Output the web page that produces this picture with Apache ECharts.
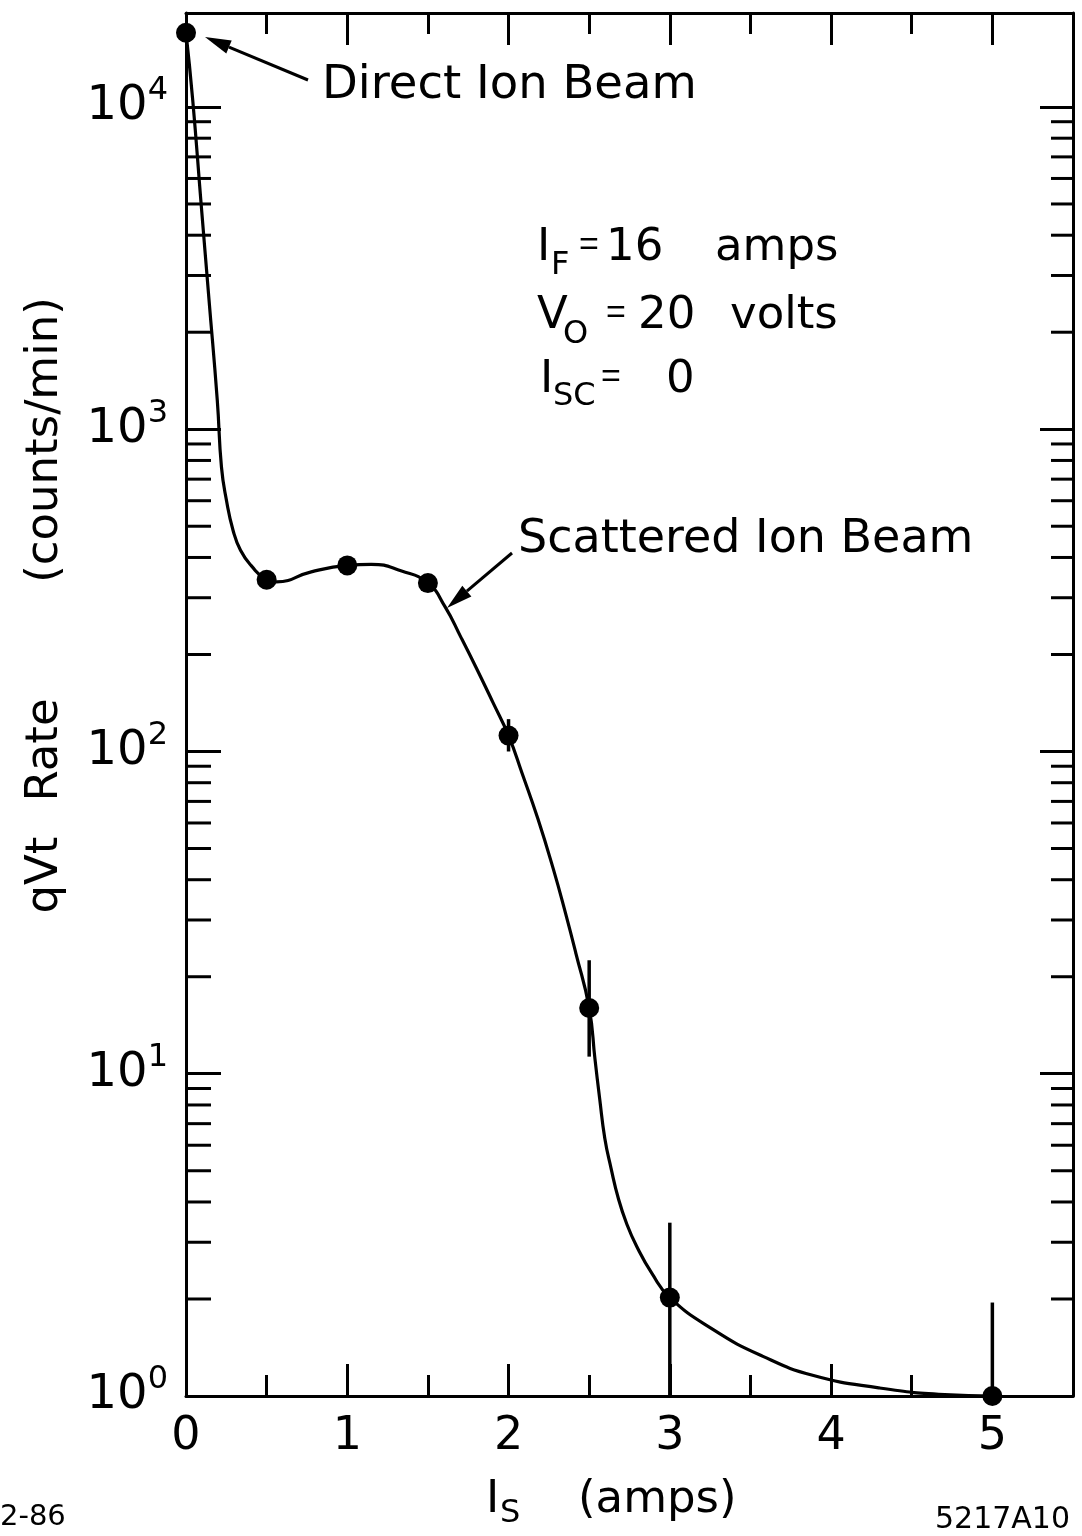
<!DOCTYPE html>
<html>
<head>
<meta charset="utf-8">
<script src="https://cdn.jsdelivr.net/npm/echarts@6/dist/echarts.min.js"></script>
<style>
  html, body { margin: 0; padding: 0; background: #fff; }
  #chart { width: 1082px; height: 1536px; }
</style>
</head>
<body>
<div id="chart"></div>
<script>
// Measured qVt rate versus scattering current I_S
const measuredCurrent = [0.0, 0.5, 1.0, 1.5, 2.0, 2.5, 3.0, 5.0];
const measuredRate    = [17000, 341, 378, 333, 112, 16.0, 2.02, 1.0];
// Vertical error bars (null = no bar); lower ends below 1 run off the axis
const errorLow  = [null, null, null, null, 100, 11.3, 0.5, 0.5];
const errorHigh = [null, null, null, null, 126, 22.5, 3.45, 1.95];

// Hand-drawn guide curve through the measurements
const curveCurrent = [0.0, 0.042, 0.092, 0.143, 0.194, 0.22, 0.251, 0.292, 0.338, 0.403, 0.5,
                      0.561, 0.777, 1.0, 1.149, 1.337, 1.5, 1.605, 1.705, 1.804, 1.903, 2.0,
                      2.085, 2.182, 2.277, 2.354, 2.418, 2.5, 2.536, 2.565, 2.597, 2.636, 2.681,
                      2.732, 2.795, 2.889, 3.0,
                      3.267, 3.574, 3.891, 4.295, 4.704, 5.0];
const curveRate    = [17000, 10470, 5130, 2510, 1228, 762, 601, 485, 421, 378, 341,
                      336, 361, 378, 381, 363, 333, 282, 226, 180, 142, 112,
                      85.3, 61.8, 43.3, 31.4, 23.6, 16.0, 11.1, 8.37, 6.3, 5.08, 4.10,
                      3.43, 2.91, 2.40, 2.02,
                      1.61, 1.33, 1.158, 1.06, 1.01, 1.0];

// Axis extents and tick labels
const xMin = 0, xMax = 5.5;
const yMin = 1, yMax = 19570;
const xTickLabels = ['0', '1', '2', '3', '4', '5'];
const yDecadeExponents = [0, 1, 2, 3, 4];
const minorTickRates = [];
yDecadeExponents.forEach(function (e) {
  for (let m = 2; m <= 9; m++) {
    const v = m * Math.pow(10, e);
    if (v < yMax) minorTickRates.push(v);
  }
});

const FONT = 'DejaVu Sans';
const INK = '#000';

const chart = echarts.init(document.getElementById('chart'), null, { renderer: 'canvas' });

function xAxisDef(position, interval, tickLen, showLine, showLabel) {
  return {
    type: 'value', position: position, min: xMin, max: xMax, interval: interval,
    axisLine: { show: showLine, onZero: false, lineStyle: { color: INK, width: 3 } },
    axisTick: { show: true, inside: true, length: tickLen, lineStyle: { color: INK, width: 3 } },
    splitLine: { show: false },
    axisLabel: {
      show: showLabel, margin: 18, color: INK, fontFamily: FONT, fontSize: 46,
      formatter: function (v) {
        const i = Math.round(v);
        return Math.abs(v - i) < 1e-9 && xTickLabels[i] !== undefined ? xTickLabels[i] : '';
      }
    }
  };
}

function yAxisDef(position, tickLen, showLabel) {
  return {
    type: 'log', logBase: 10, position: position, min: yMin, max: yMax,
    axisLine: { show: true, onZero: false, lineStyle: { color: INK, width: 3 } },
    axisTick: { show: true, inside: true, length: tickLen, lineStyle: { color: INK, width: 3 } },
    splitLine: { show: false },
    minorTick: { show: false },
    axisLabel: {
      show: showLabel, margin: 18, color: INK, fontFamily: FONT,
      formatter: function (v) {
        const e = Math.log10(v);
        const r = Math.round(e);
        if (Math.abs(e - r) > 1e-6 || yDecadeExponents.indexOf(r) < 0) return '';
        return '{b|10}{s|' + r + '}';
      },
      rich: {
        b: { fontSize: 48, fontFamily: FONT, color: INK, lineHeight: 64 },
        s: { fontSize: 32, fontFamily: FONT, color: INK, lineHeight: 32, verticalAlign: 'top' }
      }
    }
  };
}

// Arrow made of a shaft and a filled head, pointing at (tx, ty)
function arrow(tx, ty, fx, fy) {
  const dx = fx - tx, dy = fy - ty;
  const len = Math.sqrt(dx * dx + dy * dy);
  const ux = dx / len, uy = dy / len;
  const nx = -uy, ny = ux;
  const headL = 26, headW = 7;
  const bx = tx + ux * headL, by = ty + uy * headL;
  return [
    { type: 'line', shape: { x1: bx, y1: by, x2: fx, y2: fy }, style: { stroke: INK, lineWidth: 3 } },
    { type: 'polygon', shape: { points: [[tx, ty], [bx + nx * headW, by + ny * headW], [bx - nx * headW, by - ny * headW]] },
      style: { fill: INK } }
  ];
}

function txt(x, y, s, size, extra) {
  const style = Object.assign({ text: s, fill: INK, fontFamily: FONT, fontSize: size, align: 'left', verticalAlign: 'middle' }, extra || {});
  return { type: 'text', x: x, y: y, style: style };
}
function vtxt(x, y, s, size) {
  return { type: 'text', x: x, y: y, rotation: Math.PI / 2,
    style: { text: s, fill: INK, fontFamily: FONT, fontSize: size, align: 'center', verticalAlign: 'middle' } };
}
const EQ = { fontFamily: 'Liberation Sans' };

const graphics = [].concat(
  arrow(205, 37, 308, 80),
  arrow(447, 608, 512, 553),
  [
    txt(322, 86, 'Direct Ion Beam', 46.5),
    txt(518, 540, 'Scattered Ion Beam', 46),
    // parameter block
    txt(537, 248, 'I', 45), txt(551, 266, 'F', 32), txt(579, 246, '=', 34, EQ), txt(606, 248, '16', 45), txt(715, 248, 'amps', 45),
    txt(537, 316, 'V', 45), txt(563, 335, 'O', 32), txt(606, 314, '=', 34, EQ), txt(638, 316, '20', 45), txt(730, 316, 'volts', 45),
    txt(540, 380, 'I', 45), txt(553, 397, 'SC', 32), txt(601, 378, '=', 34, EQ), txt(666, 380, '0', 45),
    // axis titles
    vtxt(45, 875, 'qVt', 45),
    vtxt(45, 750, 'Rate', 45),
    vtxt(45, 440, '(counts/min)', 45),
    txt(486, 1500, 'I', 45), txt(500, 1514, 'S', 32), txt(578, 1500, '(amps)', 45),
    txt(0, 1517, '2-86', 29),
    txt(935, 1520, '5217A10', 30)
  ]
);

const option = {
  backgroundColor: '#fff',
  animation: false,
  grid: { left: 186, top: 13, width: 887, height: 1383, containLabel: false, outerBoundsMode: 'none' },
  xAxis: [
    xAxisDef('bottom', 1, 32, true, true),
    xAxisDef('bottom', 0.5, 21, false, false),
    xAxisDef('top', 1, 32, true, false),
    xAxisDef('top', 0.5, 21, false, false)
  ],
  yAxis: [
    yAxisDef('left', 35, true),
    yAxisDef('right', 33, false)
  ],
  series: [
    {
      // minor (2..9) log ticks on both vertical frame edges
      type: 'custom', xAxisIndex: 0, yAxisIndex: 0, silent: true, z: 3,
      data: minorTickRates.map(function (v) { return [xMin, v]; }),
      renderItem: function (params, api) {
        const v = api.value(1);
        const l = api.coord([xMin, v]);
        const r = api.coord([xMax, v]);
        return {
          type: 'group', children: [
            { type: 'line', shape: { x1: l[0], y1: l[1], x2: l[0] + 25, y2: l[1] }, style: { stroke: INK, lineWidth: 3 } },
            { type: 'line', shape: { x1: r[0] - 22, y1: r[1], x2: r[0], y2: r[1] }, style: { stroke: INK, lineWidth: 3 } }
          ]
        };
      }
    },
    {
      type: 'line', xAxisIndex: 0, yAxisIndex: 0, silent: true, z: 4,
      data: curveCurrent.map(function (x, i) { return [x, curveRate[i]]; }),
      showSymbol: false, smooth: 0.5,
      lineStyle: { color: INK, width: 3.2 }
    },
    {
      // error bars
      type: 'custom', xAxisIndex: 0, yAxisIndex: 0, silent: true, z: 5,
      data: measuredCurrent.map(function (x, i) { return [x, errorLow[i], errorHigh[i]]; })
                           .filter(function (d) { return d[1] !== null; }),
      renderItem: function (params, api) {
        const x = api.value(0);
        const lo = api.coord([x, api.value(1)]);
        const hi = api.coord([x, api.value(2)]);
        const cs = params.coordSys;
        const bottom = cs.y + cs.height;
        const y1 = Math.min(lo[1], bottom);
        const y2 = Math.max(hi[1], cs.y);
        return { type: 'line', shape: { x1: lo[0], y1: y1, x2: hi[0], y2: y2 }, style: { stroke: INK, lineWidth: 3.5 } };
      }
    },
    {
      type: 'scatter', xAxisIndex: 0, yAxisIndex: 0, silent: true, z: 6,
      data: measuredCurrent.map(function (x, i) { return [x, measuredRate[i]]; }),
      symbol: 'circle', symbolSize: 20,
      itemStyle: { color: INK, opacity: 1 }
    }
  ],
  graphic: graphics
};

chart.setOption(option);
</script>
</body>
</html>
